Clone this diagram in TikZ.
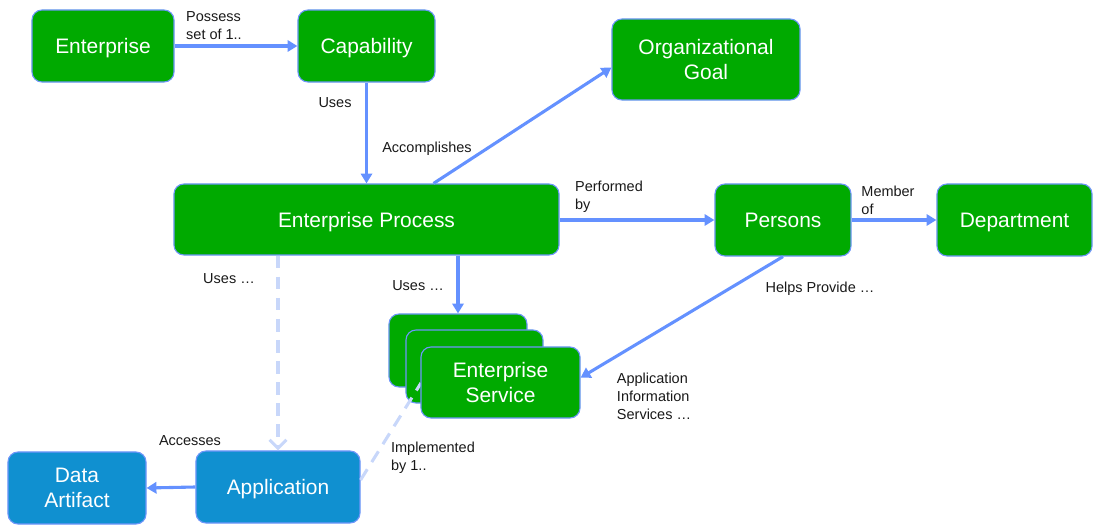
\documentclass[tikz,border=0pt]{standalone}
\usepackage{fontspec}
\setmainfont{Liberation Sans}
\usepackage{xcolor}
\usetikzlibrary{arrows.meta, positioning}

\definecolor{boxgreen}{RGB}{0,170,0}
\definecolor{boxblue}{RGB}{16,144,208}
\definecolor{edgeblue}{RGB}{110,150,250}
\definecolor{linkblue}{RGB}{100,145,255}
\definecolor{faintblue}{RGB}{200,215,250}

\tikzset{
  gbox/.style={draw=edgeblue, line width=0.8pt, fill=boxgreen, rounded corners=0.25cm,
    text=white, align=center, minimum height=1.8cm, inner sep=0pt, text depth=0pt,
    font=\fontsize{14.9}{17.8}\selectfont},
  appbox/.style={gbox, fill=boxblue},
  link/.style={linkblue, line width=2.2pt, -{Triangle[length=7pt,width=8pt]}},
  weaklink/.style={faintblue, line width=2.2pt, dash pattern=on 9pt off 6pt},
  note/.style={align=left, inner sep=0pt, text=black!90,
    font=\fontsize{10.3}{12.8}\selectfont}
}

\begin{document}
\begin{tikzpicture}[x=0.025cm, y=-0.025cm]
\useasboundingbox (0,0) rectangle (1093,525);

% Boxes
\node[gbox, minimum width=3.55cm] (ent) at (103,46) {Enterprise};
\node[gbox, minimum width=3.425cm] (cap) at (366.5,46) {Capability};
\node[gbox, minimum width=4.7cm, minimum height=2.025cm] (goal) at (706,59.5) {Organizational\\Goal};
\node[gbox, minimum width=9.625cm, minimum height=1.775cm] (proc) at (366.5,219.5) {Enterprise Process};
\node[gbox, minimum width=3.4cm] (pers) at (783,220) {Persons};
\node[gbox, minimum width=3.875cm] (dept) at (1014.5,220) {Department};

% Service stack
\node[gbox, minimum width=3.45cm, minimum height=1.825cm] (svcb) at (458,350.5) {};
\node[gbox, minimum width=3.425cm, minimum height=1.825cm] (svcm) at (474.5,366.5) {};

\node[appbox, minimum width=3.45cm] (data) at (77,488) {Data\\Artifact};
\node[appbox, minimum width=4.1cm] (app) at (278,487) {Application};

\draw[weaklink] ([yshift=0.175cm]app.east) -- (421,383);
\node[gbox, minimum width=3.975cm, minimum height=1.775cm] (svc) at (500.5,382.5) {Enterprise\\Service};

% Relations
\draw[link] (ent) -- (cap);
\draw[link] (cap) -- (proc);
\draw[link] ([xshift=1.675cm]proc.north) -- ([yshift=-0.2cm]goal.west);
\draw[link] (proc.east |- pers.west) -- (pers.west);
\draw[link] (pers) -- (dept);
\draw[link] (svcb.north |- proc.south) -- (svcb.north);
\draw[link] (pers.south) -- ([yshift=0.12cm]svc.east);
\draw[link] (app.west) -- (data.east);
\draw[weaklink, -{Straight Barb[length=6pt,width=12pt]}] (app.north |- proc.south) -- (app.north);

% Labels
\node[note] (l1) at (214,26) {Possess\\set of 1..};
\node[note] (l2) at (335,103) {Uses};
\node[note] (l3) at (427,149) {Accomplishes};
\node[note] (l4) at (609,197) {Performed\\by};
\node[note] (l5) at (888,200) {Member\\of};
\node[note] (l6) at (229,279) {Uses \dots};
\node[note] (l7) at (418,286) {Uses \dots};
\node[note] (l8) at (820,289) {Helps Provide \dots};
\node[note] (l9) at (654,396) {Application\\Information\\Services \dots};
\node[note] (l10) at (190,441) {Accesses};
\node[note] (l11) at (433,458) {Implemented\\by 1..};
\end{tikzpicture}
\end{document}
